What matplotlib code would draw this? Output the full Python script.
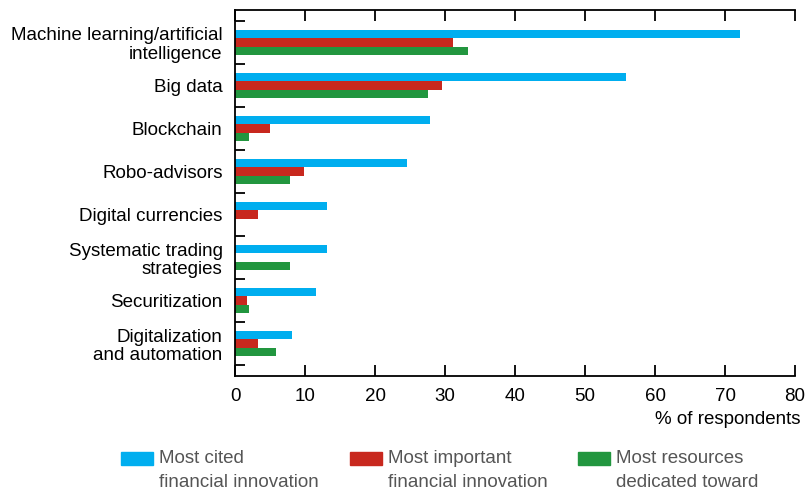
import numpy as np
import matplotlib
matplotlib.use('Agg')
import matplotlib.pyplot as plt
from matplotlib.patches import Rectangle

plt.rcParams['font.family'] = ['Liberation Sans', 'DejaVu Sans']

categories = ['Machine learning/artificial\nintelligence', 'Big data', 'Blockchain',
              'Robo-advisors', 'Digital currencies', 'Systematic trading\nstrategies',
              'Securitization', 'Digitalization\nand automation']
most_cited = [72.1, 55.8, 27.9, 24.6, 13.1, 13.1, 11.6, 8.2]
most_important = [31.1, 29.5, 5.0, 9.9, 3.3, 0, 1.7, 3.3]
most_resources = [33.3, 27.5, 2.0, 7.9, 0, 7.9, 2.0, 5.9]
series_labels = ['Most cited\nfinancial innovation', 'Most important\nfinancial innovation',
                 'Most resources\ndedicated toward']
colors = ['#00AEEF', '#C8281E', '#22963F']

fig = plt.figure(figsize=(8.06, 4.9), dpi=100)
ax = fig.add_axes([0.2916, 0.2327, 0.6948, 0.7469])

y = np.arange(len(categories))
h = 0.194
for vals, off, c in zip([most_cited, most_important, most_resources], [-h, 0, h], colors):
    ax.barh(y + off, vals, height=h, color=c, edgecolor='none')

ax.set_xlim(0, 80)
ax.set_ylim(7.5 + 0.254, -0.5 - 0.254)
ax.set_xticks(range(0, 81, 10))
ax.set_yticks(y)
ax.set_yticklabels(categories, fontsize=13.5, linespacing=1.1)
ax.set_yticks(np.arange(-0.5, 8.0, 1.0), minor=True)
ax.tick_params(axis='y', which='major', length=0, pad=9)
ax.tick_params(axis='y', which='minor', length=7, width=1.3, direction='in')
ax.tick_params(axis='x', which='both', length=8, width=1.3, direction='in',
               top=True, labelsize=13.5, pad=9)
for s in ['left', 'top', 'bottom']:
    ax.spines[s].set_linewidth(1.3)
ax.spines['right'].set_visible(False)
ax.text(1.01, -0.095, '% of respondents', transform=ax.transAxes, ha='right', va='top',
        fontsize=13.5)

# legend
lx = [121, 350, 578]
for x0, lab, c in zip(lx, series_labels, colors):
    fig.patches.append(Rectangle((x0 / 806, 1 - 465 / 490), 32 / 806, 13 / 490,
                                 transform=fig.transFigure, color=c))
    fig.text((x0 + 38) / 806, 1 - 450 / 490, lab, ha='left', va='top', fontsize=13.5,
             color='#555555', linespacing=1.55)

fig.savefig('out.png', dpi=100)
